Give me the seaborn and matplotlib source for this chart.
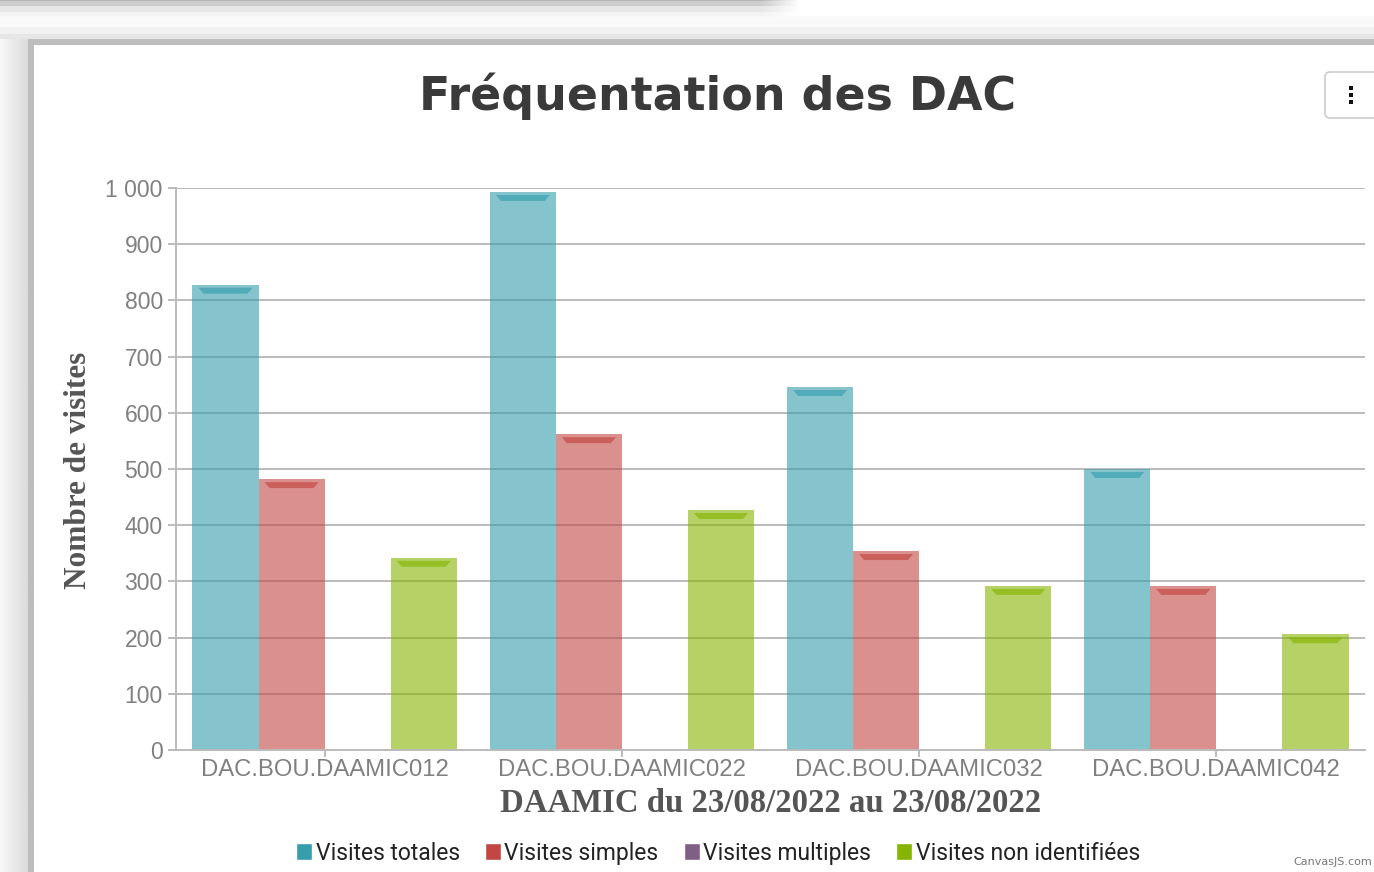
import numpy as np
import pandas as pd
import seaborn as sns
import matplotlib.pyplot as plt
from matplotlib.patches import Patch, Polygon, FancyBboxPatch, Rectangle
from matplotlib.ticker import FuncFormatter, MultipleLocator
from matplotlib.transforms import IdentityTransform

categories = ["DAC.BOU.DAAMIC012", "DAC.BOU.DAAMIC022", "DAC.BOU.DAAMIC032", "DAC.BOU.DAAMIC042"]
series = ["Visites totales", "Visites simples", "Visites multiples", "Visites non identifiées"]
visites_totales = [828, 993, 646, 500]
visites_simples = [482, 562, 354, 292]
visites_multiples = [0, 0, 0, 0]
visites_non_identifiees = [342, 427, 292, 206]
colors = ["#369EAD", "#C24642", "#7F6084", "#86B402"]

title = "Fréquentation des DAC"
x_title = "DAAMIC du 23/08/2022 au 23/08/2022"
y_title = "Nombre de visites"

rows = []
for name, vals in zip(series, [visites_totales, visites_simples, visites_multiples, visites_non_identifiees]):
    for cat, v in zip(categories, vals):
        rows.append({"DAC": cat, "Serie": name, "Visites": v})
data = pd.DataFrame(rows)

sns.set_theme()
sns.set_style("whitegrid")
plt.rcParams["font.family"] = ["Liberation Sans", "DejaVu Sans"]

W, H = 1374, 872
fig = plt.figure(figsize=(W / 100, H / 100), dpi=100)

# grey shadow of the card (screenshot frame)
bg = np.ones((H, W))
top = np.ones(46)
top[17:28] = 0.975
top[28:35] = 0.945
top[35:40] = 0.90
top[40:46] = 0.74
bg[:46, :] = top[:, None]
strip = np.ones(17)
strip[0:2] = 0.70
strip[2:7] = 0.80
strip[7:13] = 0.90
strip[13:17] = 0.95
fade = np.clip((800 - np.arange(W)) / 40, 0, 1)
bg[:17, :] = 1 - (1 - strip[:, None]) * fade[None, :]
bg[40:, :28] = np.linspace(0.97, 0.86, 28)[None, :]
bg[40:, 28:34] = 0.74
bg_ax = fig.add_axes([0, 0, 1, 1], zorder=-10)
bg_ax.imshow(bg, cmap="gray", vmin=0, vmax=1, aspect="auto", interpolation="bilinear")
bg_ax.axis("off")

ax = fig.add_axes([176 / W, 1 - 750 / H, (1365 - 176) / W, (750 - 188) / H])
sns.barplot(data=data, x="DAC", y="Visites", hue="Serie", hue_order=series,
            palette=colors, saturation=1, width=0.889, alpha=0.6,
            errorbar=None, legend=False, linewidth=0, edgecolor="none", ax=ax)
ax.set_xlim(-0.5, 3.5)
ax.set_ylim(0, 1000)

# bevel highlight near the top of each bar
px_x = 4 / (1365 - 176)
px_y = 1000 / (750 - 188)
for p, c in zip(ax.patches, [c for c in colors for _ in categories]):
    h = p.get_height()
    if h <= 0:
        continue
    x0, w = p.get_x(), p.get_width()
    poly = Polygon([(x0 + 6 * px_x, h - 3 * px_y), (x0 + w - 6 * px_x, h - 3 * px_y),
                    (x0 + w - 11 * px_x, h - 9 * px_y), (x0 + 11 * px_x, h - 9 * px_y)],
                   closed=True, facecolor=c, alpha=0.65, lw=0, zorder=3)
    ax.add_patch(poly)

ax.set_axisbelow(True)
ax.grid(axis="y", color="#BBBBBB", lw=1.4)
ax.grid(axis="x", visible=False)
for s in ["top", "right"]:
    ax.spines[s].set_visible(False)
for s in ["left", "bottom"]:
    ax.spines[s].set_color("#BBBBBB")
    ax.spines[s].set_linewidth(1.4)
ax.yaxis.set_major_locator(MultipleLocator(100))
ax.yaxis.set_major_formatter(FuncFormatter(lambda v, _: f"{int(v):,}".replace(",", " ")))
ax.tick_params(axis="y", left=True, length=6, width=1.4, color="#BBBBBB",
               labelsize=16.5, labelcolor="#808080", pad=3.5)
ax.tick_params(axis="x", bottom=True, length=5, width=1.4, color="#BBBBBB",
               labelsize=17.2, labelcolor="#808080", pad=1.5)
ax.set_xlabel("")
ax.set_ylabel("")

fig.text(718 / W, 1 - 96 / H, title, ha="center", va="center", fontsize=33,
         weight="bold", color="#3A3A3A", family="DejaVu Sans")
fig.text(771 / W, 1 - 803 / H, x_title, ha="center", va="center", fontsize=23.6,
         weight="bold", color="#555555", family="Liberation Serif")
fig.text(78 / W, 1 - 470 / H, y_title, ha="center", va="center", fontsize=22.5,
         weight="bold", color="#555555", family="Liberation Serif", rotation=90)

handles = [Patch(facecolor=c, label=s) for c, s in zip(colors, series)]
leg = fig.legend(handles=handles, loc="center", bbox_to_anchor=(718 / W, 1 - 853 / H),
                 ncol=4, frameon=False, prop={"family": "Roboto", "size": 16.5},
                 handlelength=0.7, handleheight=0.7, handletextpad=0.15, columnspacing=1.1)
for t in leg.get_texts():
    t.set_color("#222222")

# menu button and credit
fig.patches.append(FancyBboxPatch((1325, H - 118), 60, 46, boxstyle="round,pad=0,rounding_size=5",
                                  transform=IdentityTransform(), ec="#CCCCCC", fc="white", lw=1.2))
for yy in [86, 93, 100]:
    fig.patches.append(Rectangle((1349, H - yy - 4), 4, 4, transform=IdentityTransform(),
                                 fc="#111111", ec="none"))
fig.text(1372 / W, 1 - 862 / H, "CanvasJS.com", ha="right", va="center", fontsize=8,
         color="#777777", family="DejaVu Sans")

fig.savefig("out.png", dpi=100)
